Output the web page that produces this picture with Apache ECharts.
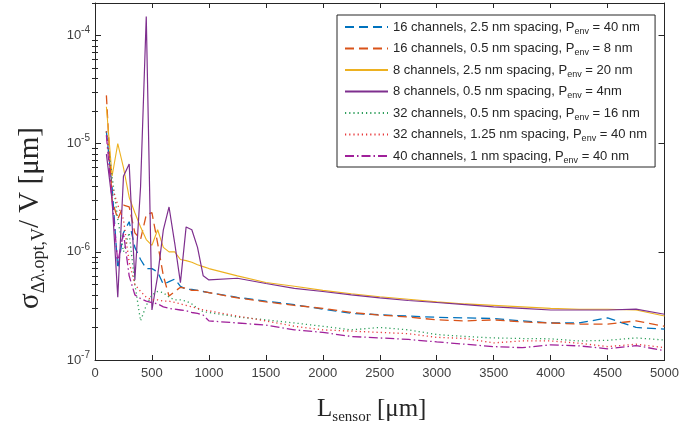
<!DOCTYPE html>
<html>
<head>
<meta charset="utf-8">
<script src="https://cdn.jsdelivr.net/npm/echarts@6/dist/echarts.min.js"></script>
<style>html,body{margin:0;padding:0;background:#fff;}#c{width:682px;height:434px;}</style>
</head>
<body>
<div id="c"></div>
<script>
// Sensor length grid (µm)
const L = [100,150,200,250,300,350,400,450,500,550,600,650,700,750,800,850,900,950,1000,
  1250,1500,1750,2000,2250,2500,2750,3000,3250,3500,3750,4000,4250,4500,4750,5000];

const ch16_25 = [1.3e-5,4e-6,7e-7,1.5e-6,1.9e-6,1.1e-6,8.5e-7,7e-7,7e-7,6.5e-7,5e-7,5.3e-7,5.6e-7,4.8e-7,4.5e-7,4.5e-7,4.4e-7,4.3e-7,4.2e-7,
  3.8e-7,3.5e-7,3.25e-7,2.95e-7,2.7e-7,2.62e-7,2.55e-7,2.48e-7,2.45e-7,2.42e-7,2.3e-7,2.2e-7,2.2e-7,2.45e-7,2.0e-7,1.93e-7];
const ch16_05 = [2.8e-5,3e-6,2e-6,2.7e-6,2.6e-6,1.5e-6,1.3e-6,2.2e-6,2.3e-6,1.2e-6,6e-7,3.9e-7,4.3e-7,4.7e-7,4.6e-7,4.4e-7,4.4e-7,4.3e-7,4.2e-7,
  3.75e-7,3.45e-7,3.2e-7,3.0e-7,2.75e-7,2.6e-7,2.5e-7,2.35e-7,2.3e-7,2.35e-7,2.25e-7,2.2e-7,2.15e-7,2.15e-7,2.3e-7,2.05e-7];
const ch8_25 = [2.2e-5,5e-6,1e-5,6e-6,3.2e-6,2.3e-6,1.7e-6,1.3e-6,1.15e-6,1.6e-6,1.1e-6,1.0e-6,1.0e-6,8.5e-7,8.3e-7,8e-7,7.6e-7,7.3e-7,7.0e-7,
  6.0e-7,5.2e-7,4.8e-7,4.4e-7,4.1e-7,3.85e-7,3.65e-7,3.45e-7,3.3e-7,3.2e-7,3.1e-7,3.0e-7,2.95e-7,2.95e-7,2.9e-7,2.55e-7];
const ch8_05 = [8e-6,3e-6,3.8e-7,5e-6,6.5e-6,5.5e-7,4e-6,1.5e-4,2.9e-7,6e-7,1.6e-6,2.6e-6,1.2e-6,5.2e-7,1.7e-6,1.6e-6,1.1e-6,6e-7,5.5e-7,
  5.7e-7,5.1e-7,4.6e-7,4.3e-7,4.0e-7,3.75e-7,3.55e-7,3.4e-7,3.25e-7,3.1e-7,3.0e-7,2.9e-7,2.9e-7,2.9e-7,2.95e-7,2.65e-7];
const ch32_05 = [1.3e-5,5e-6,2e-6,1e-6,1.5e-6,5e-7,2.3e-7,3.2e-7,4e-7,4.3e-7,4.2e-7,3.8e-7,3.6e-7,3.6e-7,3.5e-7,3.3e-7,3.0e-7,2.8e-7,2.75e-7,
  2.5e-7,2.35e-7,2.2e-7,2.05e-7,1.9e-7,2.0e-7,1.9e-7,1.72e-7,1.65e-7,1.6e-7,1.58e-7,1.57e-7,1.5e-7,1.52e-7,1.6e-7,1.53e-7];
const ch32_125 = [1.3e-5,4e-6,2.7e-6,2e-6,8e-7,5e-7,4.3e-7,3.8e-7,3.6e-7,3.6e-7,3.5e-7,3.5e-7,3.4e-7,3.3e-7,3.2e-7,3.1e-7,3.0e-7,2.9e-7,2.85e-7,
  2.55e-7,2.3e-7,2.05e-7,1.9e-7,1.85e-7,1.8e-7,1.75e-7,1.62e-7,1.58e-7,1.44e-7,1.5e-7,1.5e-7,1.43e-7,1.33e-7,1.4e-7,1.3e-7];
const ch40_1 = [1.2e-5,3e-6,8e-7,1.5e-6,6e-7,4e-7,3.7e-7,3.5e-7,3.4e-7,3.3e-7,3.1e-7,3.0e-7,2.95e-7,2.9e-7,2.85e-7,2.75e-7,2.7e-7,2.6e-7,2.3e-7,
  2.2e-7,2.1e-7,1.9e-7,1.8e-7,1.65e-7,1.6e-7,1.55e-7,1.47e-7,1.4e-7,1.33e-7,1.3e-7,1.38e-7,1.35e-7,1.27e-7,1.36e-7,1.22e-7];

const legendPre = ['16 channels, 2.5 nm spacing, P','16 channels, 0.5 nm spacing, P','8 channels, 2.5 nm spacing, P',
  '8 channels, 0.5 nm spacing, P','32 channels, 0.5 nm spacing, P','32 channels, 1.25 nm spacing, P','40 channels, 1 nm spacing, P'];
const legendPost = [' = 40 nm',' = 8 nm',' = 20 nm',' = 4nm',' = 16 nm',' = 40 nm',' = 40 nm'];
const xTicks = [0,500,1000,1500,2000,2500,3000,3500,4000,4500,5000];
const yMajor = [1e-7,1e-6,1e-5,1e-4];
const yMinor = [];
[1e-7,1e-6,1e-5,1e-4].forEach(d => { for (let k = 2; k <= 9; k++) { if (d*k <= 2e-4) yMinor.push(d*k); } });

const seriesData = [ch16_25, ch16_05, ch8_25, ch8_05, ch32_05, ch32_125, ch40_1];
const colors = ['#0072BD','#D95319','#EDB120','#7E2F8E','#2E9E5B','#E8383A','#A0209A'];
const types = [[9,5],[9,5],'solid','solid',[1.2,3],[1.2,3],[9,3,1.5,3]];
const widths = [1.3,1.3,1.1,1.2,1.3,1.3,1.3];

const names = legendPre.map((p,i) => p + 'env' + legendPost[i]);

const axisColor = '#262626';
const tickFont = 'Liberation Sans, Arial';
const serif = 'Liberation Serif, Times New Roman';
const chart = echarts.init(document.getElementById('c'));
chart.setOption({
  animation: false,
  backgroundColor: '#fff',
  grid: {left: 95, right: 16, top: 3, bottom: 74, containLabel: false},
  xAxis: [
    {type: 'value', min: 0, max: 5000, interval: 500, position: 'bottom',
     axisLine: {show: true, onZero: false, lineStyle: {color: axisColor, width: 1}},
     axisTick: {show: true, inside: true, length: 5, lineStyle: {color: axisColor}},
     axisLabel: {color: '#404040', fontSize: 13, fontFamily: tickFont, margin: 7, customValues: xTicks,
       formatter: v => String(v)},
     splitLine: {show: false},
     name: '{m|L}{s|sensor}{m| [μm]}', nameLocation: 'middle', nameGap: 35,
     nameTextStyle: {padding: [0, 16, 0, 0], rich: {
       m: {fontFamily: serif, fontSize: 25, color: '#262626', lineHeight: 28, verticalAlign: 'middle'},
       s: {fontFamily: serif, fontSize: 15, color: '#262626', lineHeight: 28, padding: [17,0,0,0], verticalAlign: 'middle'}
     }}},
    {type: 'value', min: 0, max: 5000, interval: 500, position: 'top',
     axisLine: {show: true, onZero: false, lineStyle: {color: axisColor, width: 1}},
     axisTick: {show: true, inside: true, length: 5, lineStyle: {color: axisColor}},
     axisLabel: {show: false}, splitLine: {show: false}}
  ],
  yAxis: [
    {type: 'log', min: 1e-7, max: 2e-4, position: 'left',
     axisLine: {show: true, onZero: false, lineStyle: {color: axisColor, width: 1}},
     axisTick: {show: true, inside: true, length: 6, customValues: yMajor, lineStyle: {color: axisColor}},
     axisLabel: {customValues: yMajor, margin: 5, formatter: v => '{b|10}{e|' + Math.round(Math.log10(v)) + '}',
       rich: {b: {fontSize: 13, color: '#404040', fontFamily: tickFont, verticalAlign: 'middle', lineHeight: 20},
              e: {fontSize: 10, color: '#404040', fontFamily: tickFont, verticalAlign: 'middle', lineHeight: 20, padding: [0,0,10,0]}}},
     splitLine: {show: false}},
    {type: 'log', min: 1e-7, max: 2e-4, position: 'right',
     axisLine: {show: true, onZero: false, lineStyle: {color: axisColor, width: 1}},
     axisTick: {show: true, inside: true, length: 6, customValues: yMajor, lineStyle: {color: axisColor}},
     axisLabel: {show: false}, splitLine: {show: false}},
    {type: 'log', min: 1e-7, max: 2e-4, position: 'left',
     axisLine: {show: false},
     axisTick: {show: true, inside: true, length: 3, customValues: yMinor, lineStyle: {color: axisColor}},
     axisLabel: {show: false}, splitLine: {show: false}},
    {type: 'log', min: 1e-7, max: 2e-4, position: 'right',
     axisLine: {show: false},
     axisTick: {show: true, inside: true, length: 3, customValues: yMinor, lineStyle: {color: axisColor}},
     axisLabel: {show: false}, splitLine: {show: false}}
  ],
  legend: {
    orient: 'vertical', left: 337, top: 15,
    padding: [3, 8, 2, 7], itemGap: 3.5, itemWidth: 43, itemHeight: 14,
    borderColor: '#262626', borderWidth: 1, backgroundColor: '#fff', borderRadius: 0,
    itemStyle: {opacity: 0},
    data: names,
    formatter: function (name) {
      const i = names.indexOf(name);
      return '{a|' + legendPre[i] + '}{s|env}{a|' + legendPost[i] + '}';
    },
    textStyle: {color: '#262626', fontSize: 13, fontFamily: tickFont,
      rich: {a: {fontSize: 13, color: '#262626', fontFamily: tickFont, lineHeight: 14, verticalAlign: 'middle'},
             s: {fontSize: 9, color: '#262626', fontFamily: tickFont, lineHeight: 9, padding: [9,0,0,0], verticalAlign: 'middle'}}}
  },
  graphic: [{
    type: 'text', x: 30, y: 218, rotation: Math.PI / 2,
    style: {
      text: '{m|σ}{s|Δλ.opt,V}{m|/ V [μm]}',
      align: 'center', verticalAlign: 'middle',
      rich: {
        m: {fontFamily: serif, fontSize: 29, fill: '#262626', lineHeight: 31, verticalAlign: 'middle'},
        s: {fontFamily: serif, fontSize: 18, fill: '#262626', lineHeight: 31, padding: [18,0,0,0], verticalAlign: 'middle'}
      }
    }
  }],
  series: seriesData.map((vals, i) => ({
    name: names[i], type: 'line', xAxisIndex: 0, yAxisIndex: 0,
    data: L.map((x, j) => [x, vals[j]]),
    showSymbol: false, symbol: 'none',
    lineStyle: {color: colors[i], width: widths[i], type: types[i]},
    itemStyle: {color: colors[i]},
    emphasis: {disabled: true}
  }))
});
</script>
</body>
</html>
